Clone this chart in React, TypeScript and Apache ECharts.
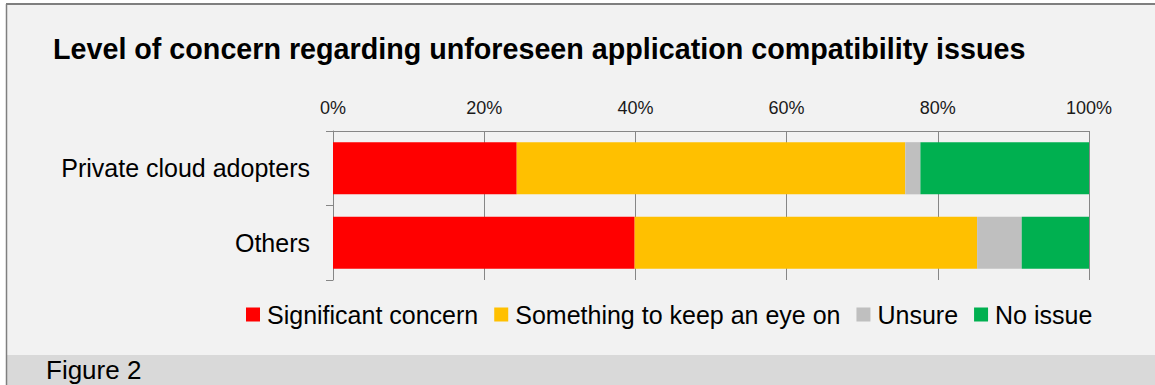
import React, { useEffect, useRef } from "react";
import * as echarts from "echarts";

const categories = ["Private cloud adopters", "Others"];
const seriesNames = ["Significant concern", "Something to keep an eye on", "Unsure", "No issue"];
const significantConcern = [24.3, 39.9];
const keepAnEye = [51.4, 45.3];
const unsure = [2.0, 5.9];
const noIssue = [22.3, 8.9];
const seriesColors = ["#FF0000", "#FFC000", "#BFBFBF", "#00B050"];
const titleText = "Level of concern regarding unforeseen application compatibility issues";
const footerText = "Figure 2";

const FONT = "'Liberation Sans', Arial, sans-serif";

export default function App() {
  const ref = useRef<HTMLDivElement>(null);
  useEffect(() => {
    if (!ref.current) return;
    const chart = echarts.init(ref.current, null, { renderer: "svg" });
    const values = [significantConcern, keepAnEye, unsure, noIssue];
    chart.setOption({
      animation: false,
      backgroundColor: "#FFFFFF",
      textStyle: { fontFamily: FONT },
      graphic: [
        { type: "rect", z: -10, shape: { x: 6, y: 4, width: 1149, height: 381 }, style: { fill: "#F2F2F2" } },
        { type: "rect", z: -9, shape: { x: 7, y: 355, width: 1148, height: 30 }, style: { fill: "#D9D9D9" } },
        { type: "line", z: -8, shape: { x1: 6, y1: 4, x2: 1155, y2: 4 }, style: { stroke: "#7F7F7F", lineWidth: 2 } },
        { type: "line", z: -8, shape: { x1: 6.5, y1: 4, x2: 6.5, y2: 385 }, style: { stroke: "#7F7F7F", lineWidth: 1.5 } },
        {
          type: "text",
          left: 46,
          top: 357,
          style: { text: footerText, font: `26px ${FONT}`, fill: "#000000" },
        },
      ],
      title: {
        text: titleText,
        left: 53,
        top: 34,
        padding: 0,
        textStyle: { fontFamily: FONT, fontSize: 28.7, fontWeight: "bold", color: "#000000" },
      },
      legend: {
        data: seriesNames,
        left: 246,
        top: 302,
        padding: 0,
        icon: "rect",
        itemWidth: 14,
        itemHeight: 14,
        itemGap: 16,
        textStyle: { fontFamily: FONT, fontSize: 25, color: "#000000", padding: [0, 0, 0, 2] },
      },
      grid: { left: 333, right: 66, top: 131, bottom: 105, containLabel: false },
      xAxis: {
        type: "value",
        position: "top",
        min: 0,
        max: 100,
        interval: 20,
        axisLine: { show: true, lineStyle: { color: "#868686", width: 1 } },
        axisTick: { show: false },
        splitLine: { show: true, lineStyle: { color: "#868686", width: 1 } },
        axisLabel: { formatter: "{value}%", fontSize: 18, color: "#1A1A1A", fontFamily: FONT, margin: 14 },
      },
      yAxis: {
        type: "category",
        data: categories,
        inverse: true,
        axisLine: { show: true, lineStyle: { color: "#868686", width: 1 } },
        axisTick: { show: true, length: 7, lineStyle: { color: "#868686" } },
        axisLabel: { fontSize: 25, color: "#000000", fontFamily: FONT, margin: 23 },
      },
      series: seriesNames.map((name, i) => ({
        name,
        type: "bar",
        stack: "total",
        barCategoryGap: "30%",
        itemStyle: { color: seriesColors[i] },
        data: values[i],
      })),
    });
    return () => chart.dispose();
  }, []);
  return (
    <div
      ref={ref}
      style={{ position: "fixed", left: 0, top: 0, width: 1155, height: 385 }}
    />
  );
}
